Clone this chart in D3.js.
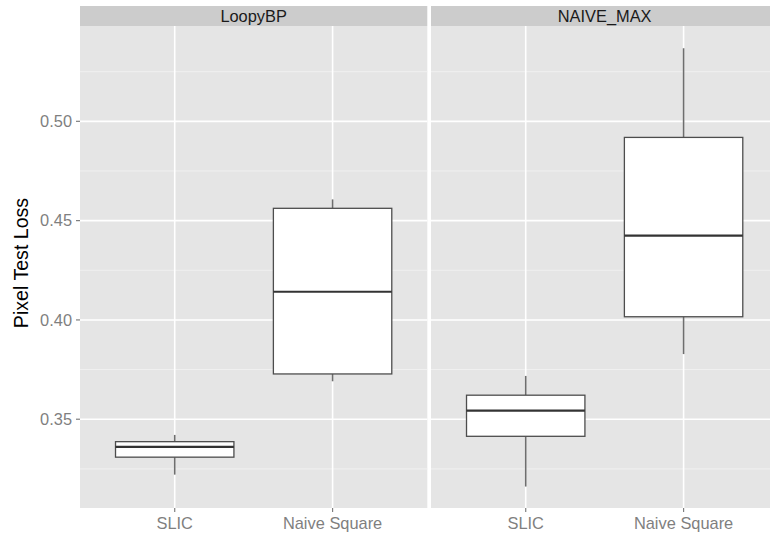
<!DOCTYPE html>
<html>
<head>
    <title>Pixel Test Loss boxplots</title>
    <script src="https://cdn.jsdelivr.net/npm/d3@7"></script>
    <style>
        body { margin: 0; background: #fff; }
        text { font-family: "Liberation Sans", Arial, Helvetica, sans-serif; }
    </style>
</head>
<body>
    <div id="chart"></div>

    <script>
        // facet panels and x categories
        var facets = ["LoopyBP", "NAIVE_MAX"];
        var categories = ["SLIC", "Naive Square"];

        // box statistics per facet, in category order (SLIC, Naive Square)
        var whiskerLow = [[0.3221, 0.3691], [0.3161, 0.3828]];
        var q1 = [[0.3309, 0.3728], [0.3414, 0.4016]];
        var median = [[0.3361, 0.4142], [0.3543, 0.4424]];
        var q3 = [[0.3387, 0.4562], [0.3621, 0.4919]];
        var whiskerHigh = [[0.3421, 0.4607], [0.3718, 0.5368]];

        var yTicks = [0.35, 0.40, 0.45, 0.50];
        var yMinor = [0.325, 0.375, 0.425, 0.475, 0.525];

        var width = 770, height = 538;
        var panelTop = 26, panelBottom = 508, stripTop = 6;
        var panelLeft = 80, panelW = 347.3, panelGap = 3.7;

        var svg = d3.select("#chart").append("svg")
            .attr("width", width)
            .attr("height", height);

        var y = d3.scaleLinear()
            .domain([0.3053, 0.548])
            .range([panelBottom, panelTop]);

        var x = d3.scalePoint()
            .domain(categories)
            .range([0, panelW])
            .padding(0.6);

        var boxW = x.step() * 0.75;

        facets.forEach(function (name, fi) {
            var g = svg.append("g")
                .attr("transform", "translate(" + (panelLeft + fi * (panelW + panelGap)) + ",0)");

            // panel background
            g.append("rect")
                .attr("x", 0).attr("y", panelTop)
                .attr("width", panelW).attr("height", panelBottom - panelTop)
                .attr("fill", "#e5e5e5");

            // minor grid
            g.selectAll(".minor").data(yMinor).enter().append("line")
                .attr("x1", 0).attr("x2", panelW)
                .attr("y1", d => y(d)).attr("y2", d => y(d))
                .attr("stroke", "#f2f2f2").attr("stroke-width", 0.9);

            // major grid
            g.selectAll(".majory").data(yTicks).enter().append("line")
                .attr("x1", 0).attr("x2", panelW)
                .attr("y1", d => y(d)).attr("y2", d => y(d))
                .attr("stroke", "#ffffff").attr("stroke-width", 1.6);

            g.selectAll(".majorx").data(categories).enter().append("line")
                .attr("x1", d => x(d)).attr("x2", d => x(d))
                .attr("y1", panelTop).attr("y2", panelBottom)
                .attr("stroke", "#ffffff").attr("stroke-width", 1.6);

            // strip
            g.append("rect")
                .attr("x", 0).attr("y", stripTop)
                .attr("width", panelW).attr("height", panelTop - stripTop)
                .attr("fill", "#cccccc");
            g.append("text")
                .attr("x", panelW / 2).attr("y", (stripTop + panelTop) / 2 + 6)
                .attr("text-anchor", "middle")
                .attr("font-size", "16.4px")
                .attr("fill", "#1a1a1a")
                .text(name);

            // boxes
            var rows = categories.map(function (c, ci) {
                return {
                    cat: c,
                    lo: whiskerLow[fi][ci], q1: q1[fi][ci], med: median[fi][ci],
                    q3: q3[fi][ci], hi: whiskerHigh[fi][ci]
                };
            });

            var b = g.selectAll(".box").data(rows).enter().append("g");

            b.append("line")
                .attr("x1", d => x(d.cat)).attr("x2", d => x(d.cat))
                .attr("y1", d => y(d.hi)).attr("y2", d => y(d.q3))
                .attr("stroke", "#6e6e6e").attr("stroke-width", 1.6);
            b.append("line")
                .attr("x1", d => x(d.cat)).attr("x2", d => x(d.cat))
                .attr("y1", d => y(d.q1)).attr("y2", d => y(d.lo))
                .attr("stroke", "#6e6e6e").attr("stroke-width", 1.6);
            b.append("rect")
                .attr("x", d => x(d.cat) - boxW / 2)
                .attr("y", d => y(d.q3))
                .attr("width", boxW)
                .attr("height", d => y(d.q1) - y(d.q3))
                .attr("fill", "#ffffff")
                .attr("stroke", "#4d4d4d").attr("stroke-width", 1.3);
            b.append("line")
                .attr("x1", d => x(d.cat) - boxW / 2).attr("x2", d => x(d.cat) + boxW / 2)
                .attr("y1", d => y(d.med)).attr("y2", d => y(d.med))
                .attr("stroke", "#333333").attr("stroke-width", 2.2);

            // x axis ticks and labels
            var xa = g.append("g").attr("transform", "translate(0," + panelBottom + ")");
            xa.selectAll("line").data(categories).enter().append("line")
                .attr("x1", d => x(d)).attr("x2", d => x(d))
                .attr("y1", 0).attr("y2", 4)
                .attr("stroke", "#7f7f7f").attr("stroke-width", 1.2);
            xa.selectAll("text").data(categories).enter().append("text")
                .attr("x", d => x(d)).attr("y", 21)
                .attr("text-anchor", "middle")
                .attr("font-size", "16.4px")
                .attr("fill", "#7f7f7f")
                .text(d => d);
        });

        // y axis
        var ya = svg.append("g").attr("transform", "translate(" + panelLeft + ",0)");
        ya.selectAll("line").data(yTicks).enter().append("line")
            .attr("x1", -4).attr("x2", 0)
            .attr("y1", d => y(d)).attr("y2", d => y(d))
            .attr("stroke", "#7f7f7f").attr("stroke-width", 1.2);
        ya.selectAll("text").data(yTicks).enter().append("text")
            .attr("x", -8).attr("y", d => y(d))
            .attr("dy", "0.35em")
            .attr("text-anchor", "end")
            .attr("font-size", "16.4px")
            .attr("fill", "#7f7f7f")
            .text(d => d3.format(".2f")(d));

        svg.append("text")
            .attr("transform", "translate(28," + ((panelTop + panelBottom) / 2 - 4) + ") rotate(-90)")
            .attr("text-anchor", "middle")
            .attr("font-size", "19.6px")
            .attr("fill", "#000")
            .text("Pixel Test Loss");
    </script>
</body>
</html>
